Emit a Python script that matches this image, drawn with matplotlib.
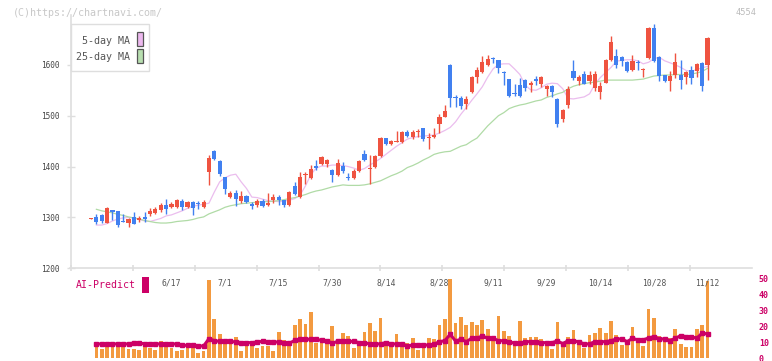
import numpy as np
import matplotlib
matplotlib.use("Agg")
import matplotlib.pyplot as plt
from matplotlib.patches import Rectangle

plt.rcParams['font.family'] = ['DejaVu Sans Mono']

nan = np.nan

# daily candles (index 0 = first visible day)
opens = [1297, 1301, 1305, 1290, 1315, 1313, 1293, 1290, 1301, 1294,
         1301, 1307, 1308, 1315, 1324, 1321, 1321, 1332, 1320, 1331,
         1328, 1320, 1390, 1431, 1411, 1380, 1341, 1348, 1332, 1342,
         1327, 1325, 1333, 1325, 1334, 1341, 1334, 1324, 1362, 1340,
         1384, 1378, 1401, 1406, 1406, 1393, 1384, 1401, 1379, 1378,
         1392, 1425, 1396, 1399, 1420, 1456, 1444, 1449, 1449, 1468,
         1459, 1467, 1475, 1457, 1458, 1484, 1498, 1600, 1537, 1534,
         1524, 1546, 1576, 1585, 1599, 1614, 1609, 1586, 1572, 1545,
         1561, 1570, 1560, 1572, 1562, 1552, 1559, 1533, 1494, 1521,
         1588, 1569, 1582, 1569, 1554, 1546, 1565, 1610, 1618, 1616,
         1605, 1589, 1606, 1589, 1614, 1673, 1616, 1580, 1569, 1580,
         1580, 1577, 1590, 1587, 1604, 1599]
highs = [1298, 1307, 1306, 1320, 1315, 1313, 1307, 1298, 1311, 1303,
         1311, 1318, 1320, 1329, 1336, 1330, 1336, 1336, 1333, 1333,
         1333, 1334, 1423, 1433, 1413, 1380, 1352, 1354, 1352, 1345,
         1330, 1337, 1337, 1348, 1346, 1345, 1335, 1352, 1370, 1390,
         1389, 1404, 1413, 1421, 1415, 1395, 1415, 1409, 1388, 1396,
         1413, 1432, 1423, 1423, 1458, 1457, 1453, 1469, 1470, 1471,
         1471, 1474, 1476, 1466, 1475, 1503, 1521, 1601, 1541, 1538,
         1539, 1578, 1595, 1618, 1619, 1615, 1610, 1587, 1573, 1562,
         1575, 1572, 1569, 1578, 1578, 1560, 1560, 1534, 1513, 1559,
         1610, 1580, 1588, 1588, 1588, 1566, 1611, 1656, 1631, 1617,
         1608, 1620, 1610, 1593, 1675, 1681, 1617, 1581, 1588, 1624,
         1610, 1588, 1598, 1603, 1605, 1655]
lows = [1296, 1288, 1290, 1289, 1295, 1282, 1291, 1282, 1287, 1292,
        1291, 1302, 1306, 1310, 1307, 1318, 1318, 1315, 1318, 1305,
        1317, 1318, 1363, 1412, 1382, 1346, 1339, 1323, 1328, 1328,
        1317, 1321, 1321, 1323, 1328, 1325, 1321, 1322, 1344, 1338,
        1366, 1376, 1393, 1404, 1400, 1370, 1382, 1388, 1373, 1376,
        1390, 1410, 1365, 1397, 1418, 1442, 1443, 1448, 1447, 1458,
        1455, 1458, 1451, 1435, 1457, 1466, 1497, 1517, 1517, 1513,
        1514, 1544, 1564, 1583, 1598, 1603, 1584, 1561, 1537, 1538,
        1537, 1549, 1547, 1561, 1557, 1538, 1537, 1477, 1488, 1516,
        1571, 1561, 1563, 1563, 1549, 1533, 1564, 1608, 1593, 1597,
        1586, 1587, 1589, 1576, 1611, 1606, 1569, 1567, 1549, 1574,
        1553, 1563, 1562, 1576, 1549, 1570]
closes = [1297, 1292, 1293, 1319, 1311, 1286, 1291, 1296, 1288, 1298,
          1297, 1313, 1317, 1325, 1317, 1327, 1334, 1321, 1331, 1318,
          1326, 1331, 1417, 1414, 1386, 1355, 1348, 1337, 1342, 1331,
          1323, 1333, 1323, 1329, 1341, 1334, 1324, 1350, 1346, 1380,
          1386, 1395, 1397, 1419, 1413, 1384, 1407, 1391, 1377, 1391,
          1411, 1413, 1398, 1421, 1456, 1444, 1450, 1451, 1468, 1461,
          1468, 1470, 1455, 1459, 1462, 1498, 1510, 1534, 1535, 1519,
          1532, 1576, 1590, 1606, 1612, 1612, 1593, 1584, 1538, 1543,
          1538, 1555, 1564, 1569, 1576, 1559, 1546, 1483, 1511, 1553,
          1575, 1576, 1563, 1580, 1582, 1559, 1610, 1645, 1599, 1607,
          1587, 1607, 1603, 1592, 1673, 1607, 1579, 1569, 1579, 1606,
          1570, 1586, 1575, 1602, 1559, 1653]

ma5 = [nan,
       1285, 1285, 1288, 1293, 1297, 1299, 1300, 1299, 1296, 1293,
       1292, 1295, 1298, 1303, 1305, 1309, 1313, 1318, 1322, 1324,
       1326, 1328, 1350, 1370, 1378, 1383, 1385, 1370, 1357, 1340,
       1339, 1336, 1333, 1332, 1331, 1332, 1334, 1337, 1344, 1362,
       1384, 1397, 1401, 1401, 1403, 1403, 1402, 1400, 1397, 1393,
       1396, 1403, 1409, 1416, 1424, 1432, 1440, 1447, 1454, 1457,
       1459, 1460, 1461, 1462, 1466, 1471, 1477, 1488, 1503, 1516,
       1530, 1543, 1557, 1576, 1592, 1601, 1602, 1602, 1592, 1581,
       1560, 1551, 1550, 1555, 1562, 1564, 1563, 1553, 1534, 1533,
       1535, 1537, 1543, 1562, 1575, 1585, 1595, 1607, 1609, 1610,
       1610, 1608, 1602, 1605, 1612, 1615, 1608, 1604, 1600, 1595,
       1589, 1587, 1591, 1594, 1597]
ma25 = [nan,
        1316, 1313, 1311, 1309, 1306, 1304, 1301, 1299, 1297, 1294,
        1292, 1290, 1289, 1289, 1290, 1292, 1293, 1294, 1296, 1299,
        1301, 1307, 1311, 1315, 1320, 1323, 1325, 1327, 1328, 1329,
        1330, 1331, 1331, 1332, 1333, 1335, 1337, 1339, 1342, 1345,
        1349, 1352, 1354, 1357, 1360, 1362, 1364, 1363, 1363, 1363,
        1364, 1366, 1369, 1372, 1377, 1382, 1386, 1391, 1398, 1402,
        1407, 1413, 1418, 1424, 1427, 1429, 1430, 1435, 1440, 1443,
        1450, 1456, 1468, 1480, 1490, 1500, 1506, 1514, 1518, 1521,
        1523, 1526, 1529, 1531, 1536, 1539, 1543, 1546, 1553, 1558,
        1561, 1563, 1565, 1566, 1568, 1570, 1570, 1570, 1570, 1570,
        1570, 1571, 1572, 1575, 1578, 1579, 1580, 1580, 1581, 1581,
        1581, 1582, 1584, 1587, 1593]

volume = [nan,
          9.6, 5.6, 6.9, 7.7, 10.2, 8.8, 5.6, 5.6, 5.2, 7.7,
          6.3, 5.2, 10.8, 7.5, 6.3, 4.6, 5.2, 6.9, 6.7, 3.3,
          4.6, 49, 24.4, 15.2, 11.3, 10.6, 13.3, 4.6, 10.2, 8.3,
          6.5, 7.5, 7.5, 4.6, 16.3, 11.3, 10.8, 20.8, 24.4, 21.5,
          28.8, 9.6, 9.4, 9.6, 20, 9.4, 15.6, 14, 6.3, 9.4,
          16.3, 22.1, 17.1, 25, 10.2, 8.1, 15, 10.2, 9.4, 12.5,
          5.0, 7.5, 12.5, 12.1, 20.6, 24.4, 49.4, 21.9, 25.6, 20.6,
          22.5, 20.6, 23.8, 18.1, 10.6, 26.5, 16.9, 13.8, 10.2, 23.1,
          12.7, 12.9, 13.0, 11.9, 10.2, 5.6, 22.5, 10.2, 12.9, 17.3,
          11.3, 6.3, 14.4, 15.6, 18.8, 15.8, 23.1, 14.4, 8.1, 8.1,
          19.4, 10.6, 7.5, 30.6, 25.2, 13.8, 10.6, 12.5, 18.1, 8.8,
          6.9, 6.9, 18.1, 20.6, 48.1]
predict = [nan,
           8.8, 8.8, 8.8, 8.8, 8.8, 8.8, 8.8, 9.4, 9.4, 8.8,
           8.8, 8.8, 8.8, 8.8, 8.8, 8.8, 7.9, 7.9, 7.9, 7.5,
           7.5, 12.1, 10.8, 10.4, 10.4, 10.4, 10.0, 9.6, 9.6, 9.6,
           10.0, 10.4, 10.0, 10.0, 10.0, 9.6, 9.2, 11.0, 11.7, 11.7,
           11.7, 11.7, 11.0, 10.8, 9.2, 10.4, 10.4, 10.4, 10.4, 9.6,
           9.6, 8.8, 8.8, 8.8, 9.6, 8.8, 8.8, 8.5, 7.5, 8.1,
           8.1, 8.1, 8.1, 8.6, 10.2, 10.8, 14.8, 10.6, 11.7, 10.2,
           12.3, 12.3, 13.8, 12.3, 12.3, 10.8, 10.8, 10.2, 9.2, 9.2,
           10.2, 10.2, 10.2, 9.6, 9.6, 9.6, 10.6, 9.0, 10.8, 10.8,
           10.0, 8.8, 8.8, 10.2, 10.2, 10.2, 10.8, 11.9, 11.9, 10.2,
           12.3, 11.3, 11.3, 12.5, 13.3, 11.9, 11.9, 10.8, 12.3, 14.0,
           13.3, 13.3, 12.3, 15.6, 15.0]

date_labels = ['6/17', '7/1', '7/15', '7/30', '8/14', '8/28',
               '9/11', '9/29', '10/14', '10/28', '11/12']
date_idx = [15, 25, 35, 45, 55, 65, 75, 85, 95, 105, 115]

price_ticks = [1200, 1300, 1400, 1500, 1600]
pred_ticks = [0, 10, 20, 30, 40, 50]

RED = '#ef5340'
BLUE = '#4180f0'
GRID = '#dedede'
MAGENTA = '#cc0066'

W, H = 772, 361
fig = plt.figure(figsize=(W / 100, H / 100), dpi=100)

def frac(x0, y0, x1, y1):
    # pixel box (top-left origin) -> figure fraction
    return [x0 / W, 1 - y1 / H, (x1 - x0) / W, (y1 - y0) / H]

xlo, xhi = -3.83, 123.3

# --- AI-Predict panel (drawn first so date labels sit on top)
ax2 = fig.add_axes(frac(70.5, 278, 752, 358))
x = np.arange(len(opens))
ax2.bar(x, volume, width=0.7, color='#f39a40', lw=0, zorder=2)
ax2.plot(x, predict, color=MAGENTA, lw=2.2, marker='s', ms=2.6, zorder=3)
ax2.set_xlim(xlo, xhi)
ax2.set_ylim(0, 50)
ax2.set_facecolor('none')
for s in ax2.spines.values():
    s.set_visible(False)
ax2.set_xticks([])
ax2.yaxis.tick_right()
ax2.set_yticks(pred_ticks)
ax2.tick_params(axis='y', length=0, pad=5, labelsize=6,
                labelcolor=MAGENTA)
for t in ax2.get_yticklabels():
    t.set_fontweight('bold')

# --- main candle panel
ax = fig.add_axes(frac(70.5, 15, 752, 268.3))
ax.set_facecolor('none')
o = np.array(opens)
c = np.array(closes)
up = c >= o
cols = np.where(up, RED, BLUE)
ax.vlines(x, lows, highs, colors=cols, lw=1, zorder=3)
body_lo = np.minimum(o, c)
body_h = np.maximum(np.abs(c - o), 2)
ax.bar(x, body_h, bottom=body_lo, width=0.78, color=cols, lw=0, zorder=4)
ax.plot(x, ma5, color='#ebbdee', lw=0.9, zorder=2)
ax.plot(x, ma25, color='#b0dba6', lw=0.9, zorder=2)

ax.set_xlim(xlo, xhi)
ax.set_ylim(1200, 1698)
for s in ['top', 'right']:
    ax.spines[s].set_visible(False)
for s in ['left', 'bottom']:
    ax.spines[s].set_color(GRID)
    ax.spines[s].set_linewidth(1.2)
ax.set_yticks(price_ticks)
ax.set_yticklabels([str(v) for v in price_ticks])
ax.tick_params(axis='y', direction='inout', length=5.8, width=1, color=GRID,
               pad=5.0, labelsize=5.6, labelcolor='#444444')
ax.set_xticks(date_idx)
ax.set_xticklabels(date_labels)
ax.tick_params(axis='x', which='major', length=0, pad=7, labelsize=5.8,
               labelcolor='#555555')
ax.set_xticks(np.linspace(xlo, xhi, 12)[:-1] + 0.04, minor=True)
ax.tick_params(axis='x', which='minor', direction='inout', length=4,
               width=1.2, color=GRID)

# --- overlay for legend and captions (pixel coordinates)
ov = fig.add_axes([0, 0, 1, 1], facecolor='none')
ov.set_xlim(0, W)
ov.set_ylim(H, 0)
ov.axis('off')

ov.text(13, 12.7, '(C)https://chartnavi.com/', fontsize=7.2,
        color='#c8c8c8', va='center', ha='left')
ov.text(757, 12.5, '4554', fontsize=6.2, color='#bbbbbb', va='center',
        ha='right')

ov.add_patch(Rectangle((70.5, 24), 78, 47, facecolor='white',
                       edgecolor=GRID, lw=1))
ov.text(129.5, 40.5, '5-day MA', fontsize=7.2, color='#555555',
        va='center', ha='right')
ov.text(129.5, 57, '25-day MA', fontsize=7.2, color='#555555',
        va='center', ha='right')
ov.add_patch(Rectangle((136.5, 31.5), 6, 14.5, facecolor='#ecb8ee',
                       edgecolor='#555555', lw=0.9))
ov.add_patch(Rectangle((136.5, 48.5), 6, 14.5, facecolor='#b8dfb0',
                       edgecolor='#555555', lw=0.9))

ov.text(75.5, 285.5, 'AI-Predict', fontsize=7.1, color=MAGENTA,
        va='center', ha='left')
ov.add_patch(Rectangle((142, 277.3), 6.5, 15.5, facecolor=MAGENTA, lw=0))

fig.savefig('out.png', dpi=100)
